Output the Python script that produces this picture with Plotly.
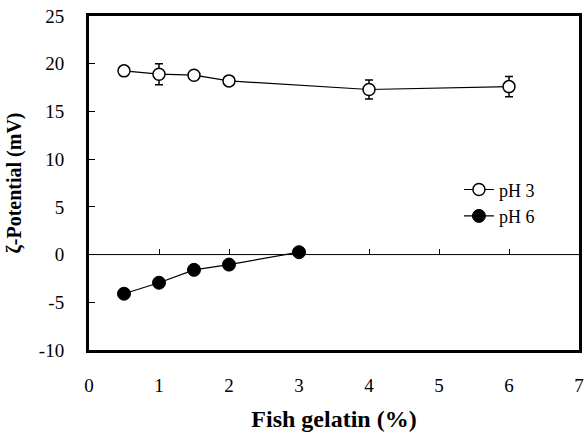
import plotly.graph_objects as go

x_ph3 = [0.5, 1, 1.5, 2, 4, 6]
y_ph3 = [19.25, 18.9, 18.8, 18.2, 17.3, 17.6]
err_ph3 = [0.2, 1.1, 0.2, 0.2, 1.0, 1.05]

x_ph6 = [0.5, 1, 1.5, 2, 3]
y_ph6 = [-4.1, -2.95, -1.6, -1.05, 0.25]

x_ticks = [0, 1, 2, 3, 4, 5, 6, 7]
y_ticks = [-10, -5, 0, 5, 10, 15, 20, 25]
y_ticktext = ["-10", "-5", "0", "5", "10", "15", "20", "25"]

FONT = "Liberation Serif"

fig = go.Figure()
fig.add_trace(go.Scatter(
    x=x_ph3, y=y_ph3, name="pH 3", mode="lines+markers",
    line=dict(color="black", width=1.2),
    marker=dict(symbol="circle", size=12, color="white", line=dict(color="black", width=1.5)),
    error_y=dict(type="data", array=err_ph3, visible=True, color="black", thickness=1.5, width=4),
))
fig.add_trace(go.Scatter(
    x=x_ph6, y=y_ph6, name="pH 6", mode="lines+markers",
    line=dict(color="black", width=1.2),
    marker=dict(symbol="circle", size=13, color="black", line=dict(color="black", width=1)),
))
# zero line axis with ticks
fig.add_trace(go.Scatter(x=[0, 7], y=[0, 0], xaxis="x2", mode="lines",
                         line=dict(color="black", width=1), showlegend=False, hoverinfo="skip"))

fig.update_layout(
    width=587, height=434,
    margin=dict(l=89, r=3, t=16, b=84),
    paper_bgcolor="white", plot_bgcolor="white",
    font=dict(family=FONT, size=19, color="black"),
    showlegend=True,
    legend=dict(x=0.755, y=0.535, xanchor="left", yanchor="top",
                bgcolor="rgba(0,0,0,0)", font=dict(size=18, family=FONT),
                tracegroupgap=2, itemwidth=30),
    xaxis=dict(range=[0, 7], tickvals=x_ticks, ticks="", showgrid=False, zeroline=False,
               showline=True, linecolor="black", linewidth=3, mirror=True,
               ticklabelstandoff=16, tickfont=dict(size=19),
               title=dict(text="<b>Fish gelatin (%)</b>", font=dict(size=24, family=FONT), standoff=16)),
    xaxis2=dict(range=[0, 7], overlaying="x", anchor="free", position=10/35,
                tickvals=x_ticks, ticks="inside", ticklen=6, tickwidth=1, tickcolor="black",
                showticklabels=False, showgrid=False, zeroline=False, showline=False),
    yaxis=dict(range=[-10, 25], tickvals=y_ticks, ticktext=y_ticktext, ticks="inside",
               ticklen=6, tickwidth=1, tickcolor="black", showgrid=False, zeroline=False,
               showline=True, linecolor="black", linewidth=3, mirror=True,
               ticklabelstandoff=18, tickfont=dict(size=19),
               title=dict(text="<b>ζ-Potential (mV)</b>", font=dict(size=20, family=FONT), standoff=12)),
)

fig.write_html("out.html")
